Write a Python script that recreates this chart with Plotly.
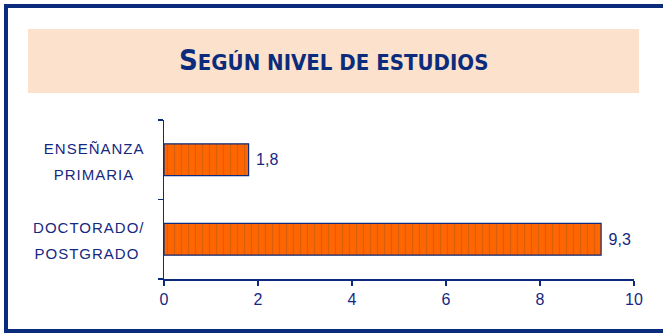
import plotly.graph_objects as go

# ---- data ----
categories = ["ENSEÑANZA PRIMARIA", "DOCTORADO/ POSTGRADO"]
label_lines = [["ENSEÑANZA", "PRIMARIA"], ["DOCTORADO/", "POSTGRADO"]]
values = [1.8, 9.3]
x_ticks = [0, 2, 4, 6, 8, 10]
title_first = "S"
title_rest = "EGÚN NIVEL DE ESTUDIOS"

NAVY = "#0b2c7c"
TEXT = "#16287f"
ORANGE = "#FF6600"

W, H = 663, 334
L, R, T, B = 164, 29, 120, 55
PW, PH = W - L - R, H - T - B

# right-side padding (non-breaking spaces) so right-anchored lines look centred
LINE_PAD = {"PRIMARIA": 2, "POSTGRADO": 1}


def px(x):
    return (x - L) / PW


def py(y):
    return (H - B - y) / PH


ticktext = [
    "<br>".join(
        f"<span style='font-size:15px;letter-spacing:1px'>{ln}{chr(160) * LINE_PAD.get(ln, 0)}</span>"
        for ln in lines
    )
    for lines in label_lines
]

fig = go.Figure(
    go.Bar(
        x=values,
        y=categories,
        orientation="h",
        width=0.4,
        marker=dict(
            color=ORANGE,
            line=dict(color=NAVY, width=1.2),
            pattern=dict(shape="|", size=7, solidity=0.18, fgcolor="#B5581A"),
        ),
        texttemplate="\u00a0%{x:.1f}",
        textposition="outside",
        textfont=dict(size=16, color=TEXT, family="Liberation Sans, Arial, sans-serif"),
        cliponaxis=False,
        hoverinfo="skip",
    )
)

border = dict(color=NAVY, width=4)
fig.update_layout(
    width=W,
    height=H,
    margin=dict(l=L, r=R, t=T, b=B, pad=0),
    paper_bgcolor="white",
    plot_bgcolor="white",
    separators=",.",
    showlegend=False,
    font=dict(family="Liberation Sans, Arial, sans-serif", color=TEXT),
    xaxis=dict(
        range=[0, 10],
        tickvals=x_ticks,
        ticks="outside",
        ticklen=5,
        tickwidth=1.5,
        tickcolor=NAVY,
        showline=True,
        linecolor=NAVY,
        linewidth=1.5,
        showgrid=False,
        zeroline=False,
        tickfont=dict(size=16, color=TEXT),
        fixedrange=True,
    ),
    yaxis=dict(
        categoryorder="array",
        categoryarray=categories,
        autorange="reversed",
        tickvals=categories,
        ticktext=ticktext,
        ticks="outside",
        ticklen=5,
        tickwidth=1.5,
        tickcolor=NAVY,
        tickson="boundaries",
        showline=True,
        linecolor=NAVY,
        linewidth=1.5,
        showgrid=False,
        zeroline=False,
        tickfont=dict(size=20, color=TEXT),
        ticklabelstandoff=14,
        fixedrange=True,
    ),
    shapes=[
        dict(
            type="rect", xref="paper", yref="paper",
            x0=px(28), x1=px(639), y0=py(93), y1=py(29),
            fillcolor="#FCE1CC", line=dict(width=0), layer="below",
        ),
        dict(type="line", xref="paper", yref="paper",
             x0=px(4), x1=px(670), y0=py(6), y1=py(6), line=border),
        dict(type="line", xref="paper", yref="paper",
             x0=px(6), x1=px(6), y0=py(4), y1=py(333), line=border),
        dict(type="line", xref="paper", yref="paper",
             x0=px(4), x1=px(670), y0=py(331), y1=py(331), line=border),
    ],
    annotations=[
        dict(
            xref="paper", yref="paper", x=px(333), y=py(60),
            xanchor="center", yanchor="middle", showarrow=False,
            text=f"<b><span style='font-size:29px'>{title_first}</span>{title_rest}</b>",
            font=dict(size=22, color=NAVY,
                      family="Liberation Sans Narrow, DejaVu Sans Condensed, Arial Narrow, sans-serif"),
        )
    ],
)

fig.write_html(
    "out.html",
    config={"displayModeBar": False, "staticPlot": True},
    post_script=(
        "document.body.style.margin='0';document.body.style.overflow='hidden';"
        "document.documentElement.style.overflow='hidden';"
    ),
)
